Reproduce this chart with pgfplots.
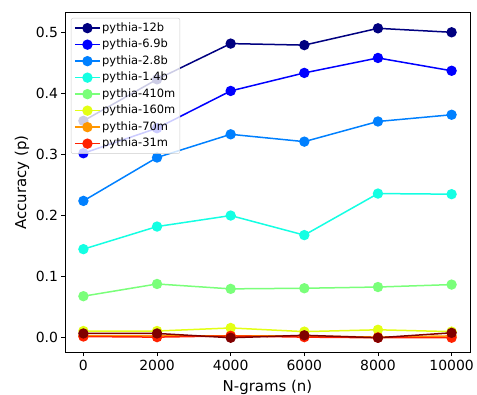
\documentclass[border=0pt]{standalone}
\usepackage{fontspec}
\setmainfont{DejaVu Sans}
\usepackage{pgfplots}
\pgfplotsset{compat=1.18}
\definecolor{c1}{rgb}{0,0,0.5}
\definecolor{c2}{rgb}{0,0,1}
\definecolor{c3}{rgb}{0,0.5,1}
\definecolor{c4}{rgb}{0.08,1,0.89}
\definecolor{c5}{rgb}{0.48,1,0.48}
\definecolor{c6}{rgb}{0.89,1,0.08}
\definecolor{c7}{rgb}{1,0.59,0}
\definecolor{c8}{rgb}{1,0.13,0}
\definecolor{c9}{rgb}{0.5,0,0}
\begin{document}
\begin{tikzpicture}
\useasboundingbox (-65bp,-42.3bp) rectangle (412bp,352.7bp);
\begin{axis}[
  scale only axis,
  width=405bp, height=340.2bp,
  xmin=-500, xmax=10500,
  ymin=-0.0245, ymax=0.5324,
  xtick={0,2000,4000,6000,8000,10000},
  ytick={0,0.1,0.2,0.3,0.4,0.5},
  scaled x ticks=false, scaled y ticks=false,
  tick align=outside,
  major tick length=3.5bp,
  tick style={black, line width=0.8bp},
  axis line style={black, line width=0.8bp},
  xtick pos=bottom, ytick pos=left,
  /pgf/number format/assume math mode=true,
  x tick label style={/pgf/number format/1000 sep={}},
  y tick label style={/pgf/number format/.cd, fixed, fixed zerofill, precision=1},
  tick label style={font=\fontsize{14}{16}\selectfont},
  label style={font=\fontsize{15}{17}\selectfont},
  xlabel={N-grams (n)},
  ylabel={Accuracy (p)},
  x label style={at={(axis description cs:0.5,-0.101)}, anchor=center},
  y label style={at={(axis description cs:-0.106,0.5)}, anchor=center},
  every axis plot/.append style={line width=1.5bp, mark=*, mark size=4.4bp, mark options={solid}},
  legend style={at={(axis description cs:0.0148,0.984)}, anchor=north west,
    fill=white, fill opacity=0.8, text opacity=1, draw opacity=1, draw=black!20,
    rounded corners=2pt, font=\fontsize{11.5}{13}\selectfont,
    row sep=2.5bp, inner xsep=3bp, inner ysep=3bp,
    nodes={inner sep=1.5bp, text height=8.5bp, text depth=2.5bp, font=\fontsize{11.5}{13}\selectfont}},
  legend cell align=left,
  legend image code/.code={\draw[fill opacity=1, draw opacity=1, mark repeat=2,mark phase=2] plot coordinates {(0bp,0bp)(12.5bp,0bp)(25bp,0bp)};},
]
\addplot[color=c1] coordinates {(0,0.355)(2000,0.423)(4000,0.4815)(6000,0.479)(8000,0.5065)(10000,0.500)};
\addlegendentry{pythia-12b}
\addplot[color=c2] coordinates {(0,0.302)(2000,0.343)(4000,0.404)(6000,0.4335)(8000,0.458)(10000,0.437)};
\addlegendentry{pythia-6.9b}
\addplot[color=c3] coordinates {(0,0.224)(2000,0.295)(4000,0.333)(6000,0.321)(8000,0.354)(10000,0.365)};
\addlegendentry{pythia-2.8b}
\addplot[color=c4] coordinates {(0,0.145)(2000,0.182)(4000,0.200)(6000,0.168)(8000,0.236)(10000,0.235)};
\addlegendentry{pythia-1.4b}
\addplot[color=c5] coordinates {(0,0.068)(2000,0.088)(4000,0.080)(6000,0.081)(8000,0.083)(10000,0.087)};
\addlegendentry{pythia-410m}
\addplot[color=c6] coordinates {(0,0.011)(2000,0.011)(4000,0.016)(6000,0.010)(8000,0.013)(10000,0.010)};
\addlegendentry{pythia-160m}
\addplot[color=c7] coordinates {(0,0.003)(2000,0.003)(4000,0.003)(6000,0.003)(8000,0.001)(10000,0.003)};
\addlegendentry{pythia-70m}
\addplot[color=c8] coordinates {(0,0.002)(2000,0.001)(4000,0.003)(6000,0.001)(8000,0.000)(10000,0.000)};
\addlegendentry{pythia-31m}
\addplot[color=c9, forget plot] coordinates {(0,0.007)(2000,0.007)(4000,0.000)(6000,0.004)(8000,0.000)(10000,0.008)};
\end{axis}
\end{tikzpicture}
\end{document}
